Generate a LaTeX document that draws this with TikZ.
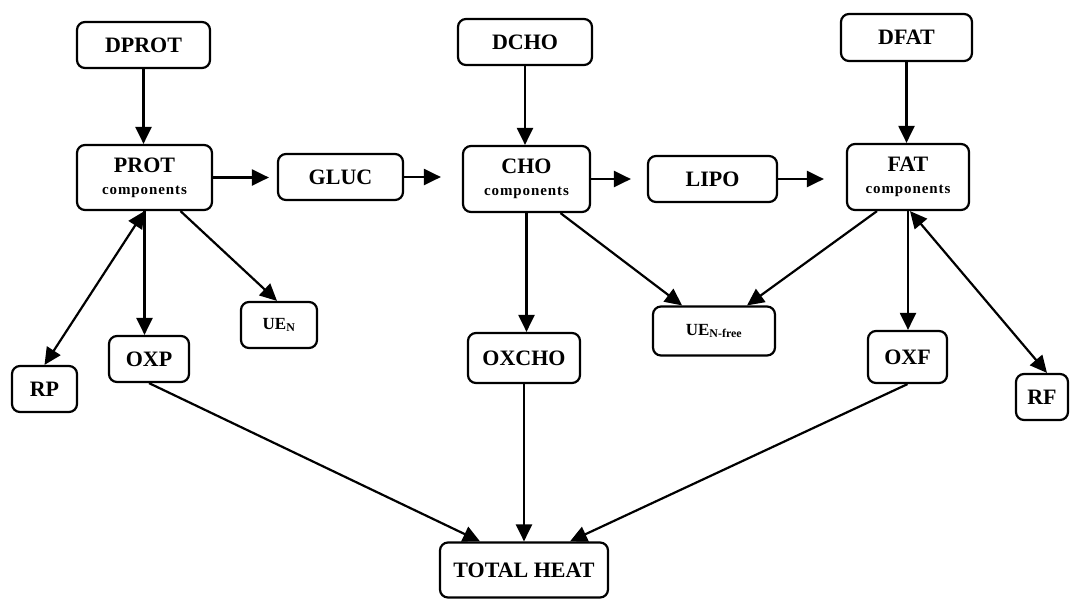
\documentclass[tikz,border=0pt]{standalone}
\usepackage{fontspec}
\setmainfont{Liberation Serif}
\usetikzlibrary{arrows.meta}
\begin{document}
\begin{tikzpicture}[x=1pt,y=-1pt,
  box/.style={draw, line width=2.2pt, rounded corners=8pt, inner sep=0pt, align=center,
    font=\fontsize{22}{24}\selectfont\bfseries},
  small/.style={box, font=\fontsize{17}{20}\selectfont\bfseries},
  conn/.style={line width=2.2pt, -{Triangle[length=17pt,width=16pt]}},
  bconn/.style={line width=2.2pt, {Triangle[length=17pt,width=16pt]}-{Triangle[length=17pt,width=16pt]}}
]
\newcommand{\compo}{\\[-2pt]{\fontsize{15}{17}\selectfont\addfontfeature{LetterSpace=6}components}}
\useasboundingbox (0,0) rectangle (1073,598);
\node[box, minimum width=133pt, minimum height=46pt] (dprot) at (143.5,45) {DPROT};
\node[box, minimum width=135pt, minimum height=65pt] (prot) at (144.5,177.5) {PROT\compo};
\node[box, minimum width=125pt, minimum height=46pt] (gluc) at (340.5,177) {GLUC};
\node[box, minimum width=134pt, minimum height=46pt] (dcho) at (525,42) {DCHO};
\node[box, minimum width=127pt, minimum height=66pt] (cho) at (526.5,179) {CHO\compo};
\node[box, minimum width=129pt, minimum height=46pt] (lipo) at (712.5,179) {LIPO};
\node[box, minimum width=131pt, minimum height=47pt] (dfat) at (906.5,37.5) {DFAT};
\node[box, minimum width=122pt, minimum height=66pt] (fat) at (908,177) {FAT\compo};
\node[small, minimum width=76pt, minimum height=46pt] (uen) at (279,325) {UE\textsubscript{N}};
\node[small, minimum width=122pt, minimum height=49pt] (uenfree) at (714,331) {UE\textsubscript{N-free}};
\node[box, minimum width=65pt, minimum height=46pt] (rp) at (44.5,389) {RP};
\node[box, minimum width=80pt, minimum height=46pt] (oxp) at (149,359) {OXP};
\node[box, minimum width=112pt, minimum height=50pt] (oxcho) at (524,358) {OXCHO};
\node[box, minimum width=79pt, minimum height=52pt] (oxf) at (907.5,357) {OXF};
\node[box, minimum width=52pt, minimum height=46pt] (rf) at (1042,397) {RF};
\node[box, minimum width=168pt, minimum height=55pt] (total) at (524,570) {TOTAL HEAT};

\draw[conn] (dprot.south) -- (dprot.south |- prot.north);
\draw[conn] (dcho.south) -- (dcho.south |- cho.north);
\draw[conn] (dfat.south) -- (dfat.south |- fat.north);
\draw[conn, shorten >=8pt] (prot.east) -- (prot.east -| gluc.west);
\draw[conn, shorten >=21pt] (gluc.east) -- (gluc.east -| cho.west);
\draw[conn, shorten >=16pt] (cho.east) -- (cho.east -| lipo.west);
\draw[conn, shorten >=22pt] (lipo.east) -- (lipo.east -| fat.west);
\draw[bconn] (prot.south) -- (rp.north);
\draw[conn] (prot.south) -- (prot.south |- oxp.north);
\draw[conn] ([xshift=36pt]prot.south) -- ([xshift=-2pt]uen.north);
\draw[conn] (cho.south) -- (cho.south |- oxcho.north);
\draw[conn] ([xshift=34pt]cho.south) -- ([xshift=-32pt]uenfree.north);
\draw[conn] ([xshift=-31pt]fat.south) -- ([xshift=33pt]uenfree.north);
\draw[conn] (fat.south) -- (fat.south |- oxf.north);
\draw[bconn] ([xshift=2pt]fat.south) -- ([xshift=5pt]rf.north);
\draw[conn] (oxp.south) -- ([xshift=-44pt]total.north);
\draw[conn] (oxcho.south) -- (total.north);
\draw[conn] (oxf.south) -- ([xshift=46pt]total.north);
\end{tikzpicture}
\end{document}
